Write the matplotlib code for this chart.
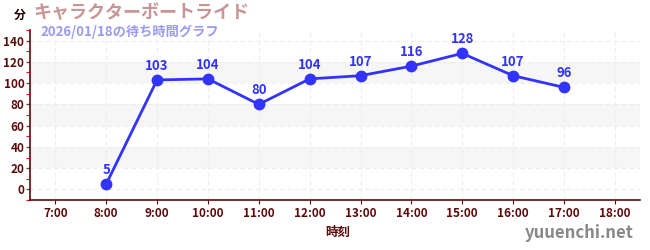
import matplotlib
matplotlib.use("Agg")
import matplotlib.pyplot as plt
from matplotlib.ticker import MultipleLocator

plt.rcParams['font.family'] = ['Noto Sans CJK JP', 'DejaVu Sans']

hours = [8, 9, 10, 11, 12, 13, 14, 15, 16, 17]
waits = [5, 103, 104, 80, 104, 107, 116, 128, 107, 96]
xticks = list(range(7, 19))
xlabels = [f"{h}:00" for h in xticks]
yticks = [0, 20, 40, 60, 80, 100, 120, 140]
title = "キャラクターボートライド"
subtitle = "2026/01/18の待ち時間グラフ"
ylab = "分"
xlab = "時刻"
watermark = "yuuenchi.net"

axc = '#5c0a0a'
linec = '#3333ff'

fig = plt.figure(figsize=(6.5, 2.5), dpi=100)
ax = fig.add_axes([0.046, 0.2, 0.939, 0.68])
ax.set_xlim(6.5, 18.5)
ax.set_ylim(-10, 150)

for lo in (20, 60, 100):
    ax.axhspan(lo, lo + 20, color='#f6f6f6', zorder=0, lw=0)

ax.set_xticks(xticks)
ax.set_xticklabels(xlabels)
ax.set_yticks(yticks)
ax.yaxis.set_minor_locator(MultipleLocator(10))
ax.grid(True, which='major', color='#ededed', linestyle=(0, (4, 3)), lw=0.8, zorder=0)

for s in ('top', 'right'):
    ax.spines[s].set_visible(False)
for s in ('left', 'bottom'):
    ax.spines[s].set_color(axc)
    ax.spines[s].set_linewidth(1.2)

ax.tick_params(axis='x', colors=axc, labelsize=8.5, length=3, width=0.8, pad=2)
ax.tick_params(axis='y', which='major', colors='#555555', labelcolor=axc, labelsize=8.5, length=3, width=1, pad=1)
ax.tick_params(axis='y', which='minor', colors='red', length=3, width=0.8)
for lbl in ax.get_xticklabels() + ax.get_yticklabels():
    lbl.set_fontweight('bold')

ax.plot(hours, waits, color=linec, lw=2, marker='o', markersize=7.5, zorder=3, clip_on=False)
for h, w in zip(hours, waits):
    ax.annotate(str(w), (h, w), xytext=(0, 5), textcoords='offset points',
                ha='center', va='bottom', color=linec, fontsize=9.5, fontweight='bold')

fig.text(0.052, 0.948, title, color='#c89696', fontsize=13, fontweight='bold', va='center', ha='left')
fig.text(0.062, 0.872, subtitle, color='#9a9af0', fontsize=9.5, fontweight='bold', va='center', ha='left')
fig.text(0.031, 0.94, ylab, color='#220000', fontsize=8.5, fontweight='bold', va='center', ha='center')
fig.text(0.52, 0.072, xlab, color=axc, fontsize=9, fontweight='bold', va='center', ha='center')
fig.text(0.975, 0.068, watermark, color='#888888', fontsize=12, fontweight='bold', va='center', ha='right',
         family=['Noto Sans CJK JP', 'DejaVu Sans'])

fig.savefig('out.png', dpi=100)
